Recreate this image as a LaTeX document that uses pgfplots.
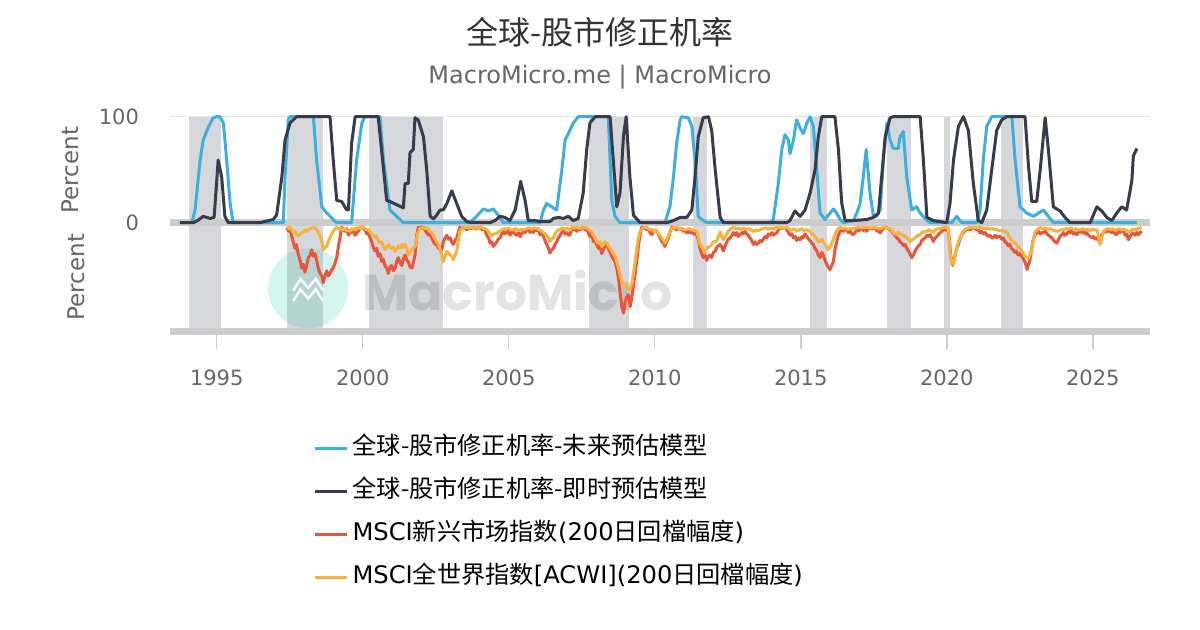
\documentclass[border=0pt]{standalone}
\usepackage{fontspec}
\setmainfont{DejaVu Sans}
\newfontfamily\cjk{Noto Sans CJK SC}
\newfontfamily\wm{Poppins}
\usepackage{graphicx}
\usepackage{pgfplots}
\pgfplotsset{compat=1.18}
\definecolor{cBlue}{RGB}{60,175,220}
\definecolor{cNavy}{RGB}{55,59,76}
\definecolor{cRed}{RGB}{233,85,58}
\definecolor{cOrange}{RGB}{246,178,60}
\definecolor{cBand}{RGB}{214,215,219}
\definecolor{cZero}{RGB}{204,204,204}
\definecolor{cGrid}{RGB}{230,230,230}
\definecolor{cTick}{RGB}{102,102,102}
\definecolor{cTitle}{RGB}{51,51,51}
\definecolor{cTeal}{RGB}{40,200,170}
\newcommand\zh[1]{{\cjk #1}}
\begin{document}
\begin{tikzpicture}
\useasboundingbox (0,0) rectangle (600pt,315pt);
\node[font=\fontsize{16}{19}\selectfont\cjk, text=cTitle] at (300pt,299pt) {全球-股市修正机率};
\node[font=\fontsize{12}{14}\selectfont, text=cTick] at (300pt,276.5pt) {MacroMicro.me | MacroMicro};

\begin{axis}[
  at={(85pt,203.65pt)}, anchor=south west,
  scale only axis, width=490pt, height=53pt,
  xmin=1993.40, xmax=2026.96, ymin=0, ymax=100,
  clip=false,
  axis line style={draw=none},
  xtick=\empty,
  ytick={0,100}, yticklabels={\raisebox{-1.7pt}{0},100},
  major tick length=0pt,
  yticklabel style={font=\fontsize{10.5}{12}\selectfont, text=cTick, xshift=-12pt},
  /pgf/number format/assume math mode=true,
]
\fill[cBand] (1994.05,0) rectangle (1995.14,100);
\fill[cBand] (1997.40,0) rectangle (1998.63,100);
\fill[cBand] (2000.22,0) rectangle (2002.74,100);
\fill[cBand] (2007.75,0) rectangle (2009.12,100);
\fill[cBand] (2011.30,0) rectangle (2011.78,100);
\fill[cBand] (2015.30,0) rectangle (2015.91,100);
\fill[cBand] (2017.97,0) rectangle (2018.79,100);
\fill[cBand] (2019.89,0) rectangle (2020.10,100);
\fill[cBand] (2021.87,0) rectangle (2022.62,100);
\draw[cGrid, line width=0.6pt] (1993.40,100) -- (2026.96,100);
\draw[cZero, line width=3.5pt] (1993.40,0) -- (2026.96,0);
\addplot[cBlue, line width=1.5pt, line join=round] coordinates {
(1993.74,0) (1994.15,0) (1994.26,12) (1994.43,59) (1994.54,78) (1994.71,90) (1994.88,99) (1995.00,100) (1995.11,100) (1995.23,94) (1995.34,59) (1995.46,18) (1995.56,0) (1997.28,0) (1997.34,43) (1997.45,97) (1997.51,100) (1998.31,100) (1998.42,59) (1998.60,15) (1998.77,9) (1998.99,3) (1999.11,0) (1999.62,0) (1999.79,59) (1999.97,94) (2000.08,100) (2000.59,100) (2000.71,59) (2000.93,12) (2001.16,6) (2001.39,0) (2003.67,0) (2003.90,6) (2004.13,13) (2004.30,11) (2004.47,13) (2004.64,7) (2004.82,0) (2006.07,0) (2006.19,12) (2006.30,18) (2006.47,15) (2006.64,12) (2006.82,50) (2006.93,78) (2007.04,84) (2007.21,94) (2007.38,100) (2008.41,100) (2008.47,59) (2008.53,21) (2008.64,6) (2008.81,0) (2010.35,0) (2010.52,15) (2010.64,43) (2010.75,75) (2010.87,97) (2010.93,100) (2011.15,99) (2011.27,91) (2011.38,59) (2011.49,6) (2011.61,3) (2011.78,0) (2013.95,0) (2014.06,3) (2014.23,37) (2014.35,69) (2014.46,83) (2014.58,78) (2014.63,65) (2014.75,78) (2014.86,97) (2014.98,89) (2015.09,84) (2015.21,94) (2015.32,100) (2015.43,91) (2015.55,50) (2015.66,9) (2015.83,3) (2016.00,9) (2016.12,13) (2016.23,9) (2016.35,3) (2016.46,0) (2016.80,2) (2016.92,9) (2017.03,18) (2017.14,43) (2017.24,69) (2017.37,28) (2017.49,6) (2017.60,6) (2017.72,12) (2017.83,59) (2017.95,94) (2018.06,78) (2018.17,70) (2018.34,70) (2018.40,81) (2018.51,86) (2018.63,43) (2018.80,12) (2018.97,15) (2019.09,9) (2019.32,2) (2019.43,0) (2020.17,0) (2020.34,6) (2020.51,0) (2021.03,0) (2021.14,12) (2021.25,59) (2021.37,91) (2021.54,100) (2022.23,100) (2022.34,59) (2022.51,15) (2022.74,9) (2022.97,6) (2023.14,9) (2023.31,12) (2023.48,6) (2023.65,0) (2026.51,0)
};
\addplot[cNavy, line width=1.5pt, line join=round] coordinates {
(1993.74,0) (1994.20,0) (1994.37,2.5) (1994.54,6) (1994.77,4) (1994.91,5) (1995.05,59) (1995.17,43) (1995.28,6) (1995.40,0) (1996.48,0) (1996.93,3) (1997.05,7) (1997.23,43) (1997.34,78) (1997.51,94) (1997.62,97) (1997.74,100) (1998.88,100) (1998.99,59) (1999.11,21) (1999.28,20) (1999.45,12) (1999.51,12) (1999.62,75) (1999.74,100) (2000.53,100) (2000.82,21) (2000.93,20) (2001.39,14) (2001.45,37) (2001.56,37) (2001.62,66) (2001.73,69) (2001.79,99) (2001.90,97) (2002.08,81) (2002.19,50) (2002.31,6) (2002.42,3.5) (2002.53,7) (2002.65,12) (2002.76,12) (2002.88,18) (2003.05,30) (2003.22,18) (2003.39,6) (2003.56,1) (2003.73,0) (2004.36,0) (2004.53,2) (2004.70,6) (2004.87,5) (2005.04,2) (2005.22,12) (2005.41,39) (2005.56,21) (2005.67,2) (2005.90,2) (2006.07,1) (2006.41,1) (2006.53,4) (2006.70,5) (2006.87,4) (2007.04,6) (2007.21,2) (2007.38,4) (2007.55,28) (2007.67,69) (2007.78,94) (2007.96,100) (2008.47,100) (2008.58,59) (2008.70,15) (2008.81,28) (2008.93,82) (2009.02,100) (2009.15,43) (2009.27,7) (2009.50,0) (2010.41,0) (2010.64,2) (2010.87,5) (2011.10,5) (2011.27,12) (2011.38,43) (2011.49,81) (2011.66,99) (2011.84,100) (2011.95,87) (2012.07,50) (2012.24,5) (2012.35,0) (2014.52,0) (2014.63,2) (2014.80,11) (2014.98,6) (2015.15,12) (2015.32,28) (2015.49,50) (2015.60,81) (2015.72,100) (2016.17,100) (2016.29,69) (2016.40,19) (2016.52,2) (2016.80,2) (2017.26,3) (2017.49,5) (2017.66,9) (2017.77,43) (2017.89,81) (2018.06,99) (2018.17,100) (2019.09,100) (2019.20,59) (2019.32,5) (2019.54,2) (2020.00,0) (2020.11,18) (2020.23,59) (2020.40,91) (2020.57,100) (2020.74,87) (2020.91,37) (2021.08,2) (2021.20,0) (2021.37,12) (2021.54,50) (2021.71,87) (2021.88,97) (2022.05,100) (2022.68,100) (2022.80,53) (2022.91,20) (2023.08,20) (2023.20,50) (2023.37,99) (2023.48,69) (2023.65,15) (2023.88,11) (2024.05,5) (2024.22,0) (2024.91,0) (2025.14,15) (2025.31,11) (2025.48,5) (2025.65,2) (2025.82,9) (2025.99,15) (2026.16,12) (2026.34,40) (2026.39,63) (2026.51,70)
};
\end{axis}

\begin{axis}[
  at={(85pt,149.25pt)}, anchor=south west,
  scale only axis, width=490pt, height=52.75pt,
  xmin=1993.40, xmax=2026.96, ymin=-80, ymax=0,
  clip=false,
  axis line style={draw=none},
  ytick=\empty,
  xtick={1995,2000,2005,2010,2015,2020,2025},
  xticklabels={1995,2000,2005,2010,2015,2020,2025},
  xtick pos=left, tick align=outside, major tick length=9pt,
  xtick style={draw=cZero, line width=0.75pt},
  xticklabel style={font=\fontsize{10.5}{12}\selectfont, text=cTick, yshift=-6.5pt},
  legend cell align=left,
  legend style={at={(0.140,-0.953)}, anchor=north west, draw=none, fill=none,
    font=\fontsize{12.1}{14}\selectfont, row sep=9.5pt,
    nodes={inner ysep=0pt, text height=9pt, text depth=3pt}},
  legend image code/.code={\path (0pt,0pt) -- (16pt,0pt); \draw[#1] (0pt,0pt) -- (14pt,0pt);},
]
\fill[cBand] (1994.05,-80) rectangle (1995.14,0);
\fill[cBand] (1997.40,-80) rectangle (1998.63,0);
\fill[cBand] (2000.22,-80) rectangle (2002.74,0);
\fill[cBand] (2007.75,-80) rectangle (2009.12,0);
\fill[cBand] (2011.30,-80) rectangle (2011.78,0);
\fill[cBand] (2015.30,-80) rectangle (2015.91,0);
\fill[cBand] (2017.97,-80) rectangle (2018.79,0);
\fill[cBand] (2019.89,-80) rectangle (2020.10,0);
\fill[cBand] (2021.87,-80) rectangle (2022.62,0);
\fill[cTeal, opacity=0.2] (1998.13,-47.2) circle[radius=20pt];
\draw[white, line width=1.3pt, opacity=0.85] (1997.62,-49) -- (1997.87,-40) -- (1998.13,-47) -- (1998.39,-40) -- (1998.64,-49);
\draw[white, line width=1.3pt, opacity=0.85] (1997.62,-57) -- (1997.87,-48) -- (1998.13,-55) -- (1998.39,-48) -- (1998.64,-57);
\node[opacity=0.11, text=black] at (2005.30,-48.8) {\resizebox{155pt}{!}{\wm\bfseries MacroMicro}};

\addlegendimage{cBlue, line width=1.5pt}
\addlegendentry{\zh{全球-股市修正机率-未来预估模型}}
\addlegendimage{cNavy, line width=1.5pt}
\addlegendentry{\zh{全球-股市修正机率-即时预估模型}}

\addplot[cRed, line width=1.5pt, line join=round] coordinates {
(1997.40,-1) (1997.46,-4) (1997.52,-3) (1997.57,-8) (1997.62,-12) (1997.68,-17) (1997.73,-14) (1997.79,-21) (1997.85,-26) (1997.91,-32) (1997.96,-29) (1998.02,-35) (1998.08,-30) (1998.14,-24) (1998.20,-22) (1998.25,-18) (1998.31,-23) (1998.37,-21) (1998.43,-27) (1998.48,-32) (1998.54,-36) (1998.60,-38) (1998.65,-43) (1998.71,-37) (1998.77,-34) (1998.82,-38) (1998.88,-36) (1998.94,-33) (1998.99,-32) (1999.05,-28) (1999.11,-24) (1999.17,-15) (1999.22,-9) (1999.28,-1) (1999.34,-3) (1999.39,-4) (1999.45,-2) (1999.51,-7) (1999.57,-4) (1999.62,-5) (1999.68,-3) (1999.74,-7) (1999.80,-5) (1999.85,-4) (1999.91,-2) (1999.97,-1) (2000.03,-2) (2000.08,-3) (2000.14,-6) (2000.19,-5) (2000.25,-9) (2000.31,-12) (2000.36,-16) (2000.42,-19) (2000.48,-17) (2000.53,-23) (2000.59,-21) (2000.65,-27) (2000.70,-25) (2000.76,-30) (2000.82,-32) (2000.88,-36) (2000.93,-31) (2000.99,-30) (2001.05,-34) (2001.11,-32) (2001.16,-27) (2001.22,-24) (2001.28,-28) (2001.34,-30) (2001.39,-25) (2001.45,-22) (2001.51,-26) (2001.56,-27) (2001.62,-31) (2001.68,-32) (2001.73,-28) (2001.79,-22) (2001.85,-7) (2001.90,-1) (2001.96,-2) (2002.02,-0.5) (2002.08,-2) (2002.13,-3) (2002.19,-5) (2002.25,-7) (2002.30,-6) (2002.36,-9) (2002.42,-12) (2002.48,-14) (2002.53,-13) (2002.59,-17) (2002.65,-16) (2002.71,-18) (2002.76,-12) (2002.82,-9) (2002.88,-7) (2002.93,-10) (2002.99,-9) (2003.05,-12) (2003.10,-14) (2003.16,-11) (2003.22,-9) (2003.27,-5) (2003.33,-1) (2003.40,-2) (2003.47,-1) (2003.56,-3) (2003.63,-1.5) (2003.70,-2) (2003.79,-1) (2003.87,-2.5) (2003.95,-1) (2004.02,-1.5) (2004.10,-3) (2004.17,-2) (2004.25,-7) (2004.31,-9) (2004.36,-13) (2004.42,-12) (2004.47,-15.5) (2004.53,-14) (2004.59,-12) (2004.64,-10) (2004.70,-9) (2004.76,-6) (2004.82,-4) (2004.87,-6) (2004.93,-5) (2004.99,-3) (2005.04,-7) (2005.10,-5) (2005.16,-4.5) (2005.21,-6) (2005.27,-7) (2005.33,-5) (2005.39,-8) (2005.44,-6) (2005.50,-4) (2005.56,-5) (2005.62,-3) (2005.67,-2) (2005.73,-5) (2005.79,-3) (2005.84,-5) (2005.90,-2) (2005.96,-3.5) (2006.02,-2) (2006.07,-6.6) (2006.13,-5) (2006.19,-8) (2006.24,-11) (2006.30,-14) (2006.36,-17) (2006.41,-20.6) (2006.47,-18) (2006.53,-17) (2006.58,-14) (2006.64,-12) (2006.70,-9) (2006.76,-7) (2006.81,-5) (2006.87,-4) (2006.93,-6) (2006.99,-5) (2007.05,-7) (2007.10,-6.6) (2007.16,-1) (2007.22,-3) (2007.27,-2) (2007.33,-4) (2007.39,-2) (2007.44,-3) (2007.50,-1.5) (2007.55,-1) (2007.61,-3) (2007.67,-2) (2007.72,-5) (2007.78,-8) (2007.84,-6) (2007.90,-12) (2007.96,-11) (2008.01,-14) (2008.07,-17) (2008.13,-15) (2008.18,-21) (2008.24,-18) (2008.30,-14) (2008.36,-15) (2008.41,-17) (2008.47,-20) (2008.53,-23) (2008.58,-25) (2008.64,-27) (2008.70,-32) (2008.76,-40) (2008.81,-50) (2008.87,-61) (2008.93,-66) (2008.99,-57) (2009.04,-54) (2009.10,-52) (2009.16,-61) (2009.21,-55) (2009.27,-45) (2009.33,-36) (2009.38,-27) (2009.44,-15) (2009.49,-8) (2009.55,-1) (2009.61,-2) (2009.66,-1.5) (2009.72,-3) (2009.78,-2) (2009.84,-5) (2009.90,-6.6) (2009.95,-4) (2010.01,-3) (2010.07,-4) (2010.13,-7) (2010.18,-9) (2010.24,-11.7) (2010.30,-13) (2010.35,-15.5) (2010.41,-12) (2010.47,-9) (2010.52,-5) (2010.58,-1) (2010.64,-2) (2010.70,-1.5) (2010.75,-3) (2010.81,-1.5) (2010.87,-2.5) (2010.92,-2) (2010.98,-4) (2011.04,-3) (2011.10,-5.3) (2011.15,-3) (2011.21,-5) (2011.27,-4) (2011.33,-6) (2011.38,-5) (2011.44,-7) (2011.50,-11) (2011.55,-17) (2011.61,-21) (2011.66,-24) (2011.72,-22) (2011.78,-26) (2011.84,-23) (2011.89,-22) (2011.95,-24) (2012.01,-20) (2012.07,-19) (2012.13,-16) (2012.18,-15) (2012.24,-14) (2012.30,-16) (2012.35,-19) (2012.41,-15) (2012.47,-12) (2012.52,-10) (2012.58,-9) (2012.64,-7) (2012.69,-5) (2012.75,-7) (2012.81,-5) (2012.86,-8) (2012.92,-6.6) (2012.98,-5) (2013.03,-6) (2013.09,-4) (2013.15,-6) (2013.20,-7) (2013.26,-9) (2013.32,-11) (2013.38,-14) (2013.43,-12) (2013.49,-14) (2013.55,-13) (2013.61,-11) (2013.66,-12) (2013.72,-10) (2013.78,-8) (2013.84,-9) (2013.89,-6) (2013.95,-7) (2014.01,-5) (2014.07,-7) (2014.12,-6) (2014.18,-5) (2014.24,-3) (2014.29,-2) (2014.35,-1) (2014.41,-2) (2014.47,-1.5) (2014.52,-3) (2014.58,-5) (2014.64,-7) (2014.69,-6) (2014.75,-9) (2014.81,-8) (2014.86,-11) (2014.92,-9) (2014.98,-10.4) (2015.04,-8) (2015.09,-9) (2015.15,-6) (2015.21,-8) (2015.27,-10) (2015.32,-11) (2015.38,-13) (2015.43,-14) (2015.49,-17) (2015.55,-19) (2015.60,-22) (2015.66,-24) (2015.72,-20) (2015.77,-22) (2015.83,-26) (2015.89,-29) (2015.94,-31) (2016.00,-33) (2016.06,-30) (2016.12,-27) (2016.17,-18) (2016.23,-12) (2016.29,-7) (2016.35,-4) (2016.41,-3) (2016.46,-4) (2016.52,-2) (2016.57,-3) (2016.63,-5) (2016.69,-4) (2016.75,-6) (2016.80,-6.6) (2016.86,-5) (2016.92,-3) (2016.97,-4) (2017.03,-2.8) (2017.09,-2) (2017.14,-3.5) (2017.20,-2) (2017.26,-4) (2017.32,-2) (2017.37,-1.5) (2017.43,-2.5) (2017.49,-1) (2017.55,-2) (2017.60,-3.5) (2017.66,-4) (2017.72,-5.3) (2017.78,-3) (2017.84,-2) (2017.89,-1) (2017.95,-1.5) (2018.01,-2) (2018.06,-3) (2018.12,-4) (2018.18,-6) (2018.23,-7) (2018.29,-9) (2018.35,-10) (2018.40,-12) (2018.46,-13) (2018.52,-15) (2018.57,-14) (2018.63,-17) (2018.69,-19) (2018.74,-21) (2018.80,-24) (2018.86,-22) (2018.91,-19) (2018.97,-17) (2019.03,-15) (2019.09,-14) (2019.14,-11) (2019.20,-10) (2019.26,-9) (2019.32,-7) (2019.37,-8) (2019.43,-6.6) (2019.49,-9) (2019.54,-11.7) (2019.60,-9) (2019.66,-8) (2019.71,-6.6) (2019.77,-5) (2019.83,-4) (2019.88,-2.8) (2019.94,-3) (2020.00,-2.5) (2020.05,-4) (2020.10,-12) (2020.13,-22) (2020.20,-30) (2020.24,-26) (2020.28,-22) (2020.34,-17) (2020.40,-14) (2020.45,-10) (2020.51,-6.6) (2020.57,-5) (2020.62,-3.5) (2020.68,-2.8) (2020.74,-2) (2020.80,-3) (2020.86,-2) (2020.91,-1.5) (2020.97,-2) (2021.03,-3) (2021.08,-2) (2021.14,-5.3) (2021.20,-4) (2021.26,-6) (2021.31,-5) (2021.37,-6.6) (2021.43,-8) (2021.48,-7) (2021.54,-9) (2021.59,-8.9) (2021.65,-7) (2021.71,-9) (2021.76,-8) (2021.82,-7.9) (2021.88,-10) (2021.94,-9) (2021.99,-12) (2022.05,-13) (2022.11,-15) (2022.16,-14) (2022.22,-17) (2022.27,-18) (2022.33,-20) (2022.39,-19) (2022.44,-22) (2022.50,-21) (2022.56,-23) (2022.61,-24.4) (2022.67,-27) (2022.72,-30) (2022.75,-33) (2022.80,-29) (2022.84,-27) (2022.90,-18) (2022.95,-11.7) (2023.01,-7) (2023.08,-5.3) (2023.14,-4) (2023.20,-6) (2023.25,-5) (2023.31,-5.3) (2023.37,-4) (2023.43,-6) (2023.48,-7) (2023.54,-7.9) (2023.60,-9) (2023.66,-11) (2023.71,-12) (2023.77,-13) (2023.83,-10) (2023.88,-8) (2023.94,-6.6) (2024.00,-5) (2024.05,-7) (2024.11,-6) (2024.17,-4) (2024.22,-5.3) (2024.28,-4) (2024.34,-6) (2024.40,-5) (2024.45,-6.6) (2024.51,-5) (2024.57,-3) (2024.62,-5) (2024.68,-4) (2024.74,-6) (2024.79,-5) (2024.85,-7) (2024.91,-7.9) (2024.97,-9) (2025.02,-8) (2025.08,-10) (2025.14,-8.9) (2025.20,-11) (2025.25,-12) (2025.31,-6) (2025.37,-5.3) (2025.43,-3) (2025.48,-4.5) (2025.54,-3) (2025.59,-4) (2025.65,-5) (2025.71,-4) (2025.76,-6) (2025.82,-6.6) (2025.88,-4) (2025.94,-5) (2025.99,-3) (2026.05,-4) (2026.11,-7) (2026.16,-6) (2026.22,-10.4) (2026.28,-8) (2026.33,-6) (2026.39,-5.3) (2026.45,-7) (2026.51,-5) (2026.56,-6.6) (2026.62,-5) (2026.68,-4)
};
\addlegendentry{MSCI\zh{新兴市场指数}(200\zh{日回檔幅度})}
\addplot[cOrange, line width=1.5pt, line join=round] coordinates {
(1997.40,-0.5) (1997.46,-2) (1997.51,-1) (1997.57,-3) (1997.63,-5) (1997.68,-4) (1997.74,-7) (1997.79,-7.4) (1997.85,-6) (1997.91,-5) (1997.97,-4.6) (1998.02,-3) (1998.08,-4) (1998.14,-2.8) (1998.20,-2) (1998.25,-1.5) (1998.31,-1) (1998.37,-2) (1998.43,-3) (1998.48,-4.6) (1998.54,-8) (1998.60,-11.7) (1998.65,-18) (1998.71,-16) (1998.77,-15.5) (1998.82,-12) (1998.88,-8.9) (1998.94,-6) (1998.99,-4) (1999.05,-2) (1999.11,-1) (1999.17,-2) (1999.22,-1.5) (1999.28,-2.5) (1999.34,-2.8) (1999.39,-2) (1999.45,-3.5) (1999.51,-3) (1999.57,-4) (1999.62,-2) (1999.68,-3) (1999.74,-1.5) (1999.79,-2.5) (1999.85,-1) (1999.91,-2) (1999.97,-1) (2000.02,-1) (2000.08,-2) (2000.14,-3) (2000.19,-2.5) (2000.25,-4.6) (2000.31,-6) (2000.36,-7) (2000.42,-8.9) (2000.48,-8) (2000.53,-11) (2000.59,-13) (2000.65,-12) (2000.70,-15) (2000.76,-18) (2000.82,-16) (2000.88,-14) (2000.93,-15.5) (2000.99,-17) (2001.05,-16) (2001.11,-19.3) (2001.16,-18) (2001.22,-15) (2001.28,-16.8) (2001.34,-14) (2001.39,-16) (2001.45,-14) (2001.51,-17) (2001.56,-21.9) (2001.62,-20) (2001.68,-18) (2001.73,-17) (2001.79,-15.5) (2001.85,-9) (2001.90,-4.6) (2001.96,-2) (2002.02,-1.5) (2002.08,-1) (2002.13,-2) (2002.19,-1.5) (2002.25,-2.8) (2002.30,-4) (2002.36,-5) (2002.42,-7.4) (2002.48,-10) (2002.53,-12) (2002.59,-14) (2002.65,-18) (2002.71,-21.9) (2002.76,-27) (2002.82,-23) (2002.88,-19.3) (2002.93,-20) (2002.99,-21.9) (2003.05,-23) (2003.10,-25.6) (2003.16,-22) (2003.22,-19.3) (2003.27,-11) (2003.33,-4) (2003.40,-2) (2003.47,-1.5) (2003.56,-1) (2003.65,-1.5) (2003.73,-1) (2003.82,-2) (2003.90,-1) (2003.99,-1.5) (2004.07,-1) (2004.16,-2) (2004.25,-2.8) (2004.33,-5) (2004.42,-7.4) (2004.50,-6) (2004.59,-5.5) (2004.67,-4) (2004.76,-3) (2004.82,-2) (2004.90,-2.5) (2004.99,-1.5) (2005.07,-3) (2005.16,-3) (2005.24,-2) (2005.33,-3.5) (2005.41,-2.5) (2005.50,-3) (2005.62,-2) (2005.70,-1.5) (2005.79,-2.5) (2005.87,-1.5) (2005.96,-2) (2006.07,-3) (2006.13,-4) (2006.19,-5) (2006.24,-6) (2006.30,-7.4) (2006.36,-9) (2006.41,-11.7) (2006.47,-10) (2006.53,-8.9) (2006.58,-6) (2006.64,-4) (2006.70,-3) (2006.76,-2.5) (2006.84,-1.5) (2006.93,-2.5) (2007.01,-1.5) (2007.10,-3) (2007.16,-1) (2007.25,-1.5) (2007.33,-1) (2007.42,-2) (2007.50,-1) (2007.58,-1.5) (2007.67,-1) (2007.75,-3) (2007.84,-4.6) (2007.90,-7) (2007.96,-9) (2008.01,-11.7) (2008.07,-13) (2008.13,-12) (2008.18,-15.5) (2008.24,-14) (2008.30,-12) (2008.35,-13) (2008.41,-15) (2008.47,-17) (2008.53,-19.3) (2008.58,-21) (2008.64,-23) (2008.70,-27) (2008.76,-32) (2008.81,-37) (2008.87,-42) (2008.93,-44) (2008.99,-44.7) (2009.04,-46) (2009.10,-48.5) (2009.16,-47) (2009.21,-44.7) (2009.27,-36) (2009.33,-27) (2009.38,-18) (2009.44,-8.9) (2009.49,-5) (2009.55,-2.5) (2009.61,-1.5) (2009.66,-1) (2009.72,-1) (2009.78,-2) (2009.84,-3) (2009.90,-2.5) (2009.95,-4) (2010.01,-3) (2010.07,-4) (2010.13,-6) (2010.18,-7.4) (2010.24,-9) (2010.30,-11) (2010.35,-13) (2010.41,-10) (2010.47,-7) (2010.52,-4) (2010.58,-2) (2010.64,-1.5) (2010.75,-1) (2010.84,-2) (2010.92,-1.5) (2011.01,-3) (2011.10,-2.5) (2011.19,-2) (2011.27,-3) (2011.36,-3.5) (2011.44,-4) (2011.50,-9) (2011.55,-14) (2011.61,-16) (2011.66,-18) (2011.72,-19.3) (2011.78,-17) (2011.84,-16) (2011.89,-15.5) (2011.95,-14) (2012.01,-12) (2012.07,-11.7) (2012.12,-11.7) (2012.18,-8) (2012.24,-4.6) (2012.30,-8) (2012.35,-10.4) (2012.41,-8) (2012.47,-6) (2012.52,-4) (2012.58,-2.5) (2012.69,-1) (2012.78,-2) (2012.86,-1.5) (2012.95,-2.5) (2013.03,-1.5) (2013.14,-2.8) (2013.22,-2) (2013.30,-3) (2013.38,-4) (2013.46,-3) (2013.55,-3.5) (2013.63,-2.5) (2013.72,-2) (2013.80,-1.5) (2013.89,-2.5) (2013.97,-1.5) (2014.06,-2) (2014.18,-1) (2014.27,-1.5) (2014.35,-1) (2014.44,-2) (2014.52,-1) (2014.61,-2.5) (2014.69,-3) (2014.78,-2) (2014.86,-4) (2014.95,-3) (2015.03,-2) (2015.12,-3.5) (2015.21,-2.8) (2015.30,-4) (2015.37,-5) (2015.43,-6.6) (2015.49,-8) (2015.55,-10) (2015.60,-11.7) (2015.66,-11.7) (2015.72,-10) (2015.77,-12) (2015.83,-14) (2015.89,-16) (2015.94,-18) (2016.00,-16) (2016.05,-14) (2016.11,-10) (2016.17,-6.6) (2016.23,-3.5) (2016.29,-2) (2016.35,-1) (2016.44,-2) (2016.52,-1.5) (2016.61,-2.5) (2016.69,-2) (2016.80,-2) (2016.89,-1.5) (2016.97,-1) (2017.06,-1.5) (2017.14,-1) (2017.26,-1) (2017.37,-1.5) (2017.49,-1) (2017.60,-1.5) (2017.72,-2) (2017.84,-1) (2017.95,-1.5) (2018.06,-2) (2018.12,-3.5) (2018.18,-5) (2018.23,-6) (2018.29,-6.6) (2018.35,-5) (2018.40,-6) (2018.46,-7) (2018.51,-7.4) (2018.57,-8) (2018.63,-9) (2018.69,-10) (2018.74,-11.7) (2018.80,-10.5) (2018.86,-10) (2018.91,-9) (2018.97,-8) (2019.03,-7) (2019.09,-6.6) (2019.14,-5) (2019.20,-4.5) (2019.26,-4) (2019.32,-4) (2019.38,-3) (2019.43,-3.5) (2019.49,-4) (2019.54,-5) (2019.60,-3) (2019.66,-2.5) (2019.74,-2) (2019.83,-1.5) (2019.91,-1) (2020.00,-1) (2020.06,-3) (2020.11,-19.3) (2020.17,-29.5) (2020.22,-28) (2020.25,-27) (2020.30,-21) (2020.34,-16.8) (2020.40,-12) (2020.45,-8.9) (2020.51,-6) (2020.56,-4) (2020.62,-3) (2020.68,-2) (2020.74,-1.5) (2020.79,-1) (2020.88,-1.5) (2020.97,-1) (2021.05,-1.5) (2021.14,-1) (2021.22,-1.5) (2021.31,-2) (2021.39,-1.5) (2021.48,-2.5) (2021.56,-2) (2021.65,-2.8) (2021.71,-2.8) (2021.79,-3.5) (2021.88,-3) (2021.96,-4) (2022.05,-4.6) (2022.11,-7) (2022.16,-9) (2022.22,-11) (2022.27,-11.7) (2022.33,-13) (2022.39,-14) (2022.44,-16) (2022.51,-16.8) (2022.56,-19) (2022.62,-21) (2022.68,-23) (2022.74,-24) (2022.80,-24.4) (2022.85,-22) (2022.91,-18) (2022.97,-10) (2023.02,-4.6) (2023.08,-3) (2023.14,-2) (2023.20,-1) (2023.28,-2) (2023.37,-1.5) (2023.45,-2.5) (2023.54,-2) (2023.62,-3) (2023.71,-3.5) (2023.77,-4) (2023.83,-3.5) (2023.91,-3) (2024.00,-2.8) (2024.08,-2) (2024.17,-2.5) (2024.25,-1.5) (2024.34,-2.5) (2024.42,-2) (2024.51,-3) (2024.57,-2.8) (2024.65,-2) (2024.74,-3) (2024.82,-2.5) (2024.91,-3.5) (2024.99,-2.5) (2025.08,-3) (2025.14,-2.8) (2025.20,-8) (2025.25,-14) (2025.31,-9) (2025.37,-4) (2025.43,-3) (2025.51,-2) (2025.60,-2.5) (2025.68,-2) (2025.76,-3) (2025.82,-2.8) (2025.91,-2) (2025.99,-3) (2026.08,-2.5) (2026.16,-3.5) (2026.22,-4) (2026.28,-4) (2026.36,-2.5) (2026.45,-3) (2026.53,-2) (2026.62,-1.5) (2026.68,-1)
};
\addlegendentry{MSCI\zh{全世界指数}[ACWI](200\zh{日回檔幅度})}
\draw[cZero, line width=3.5pt] (1993.40,-80) -- (2026.96,-80);
\end{axis}

\node[rotate=90, font=\fontsize{11.5}{13}\selectfont, text=cTick] at (35pt,230pt) {Percent};
\node[rotate=90, font=\fontsize{11.5}{13}\selectfont, text=cTick] at (38pt,176.5pt) {Percent};
\end{tikzpicture}
\end{document}
